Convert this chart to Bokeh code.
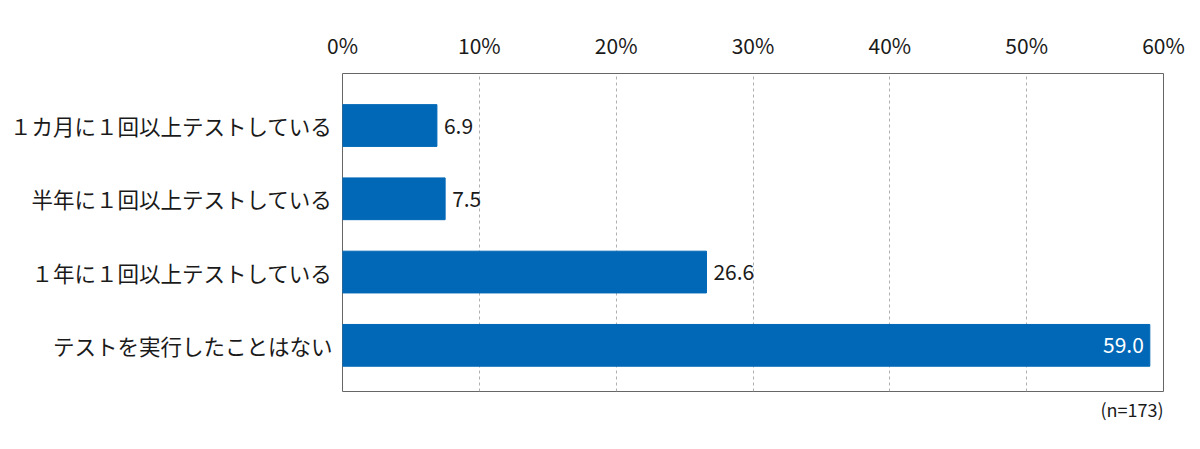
from bokeh.plotting import figure
from bokeh.models import ColumnDataSource, FixedTicker, Range1d, LinearAxis, LabelSet, Title
from bokeh.core.properties import value
from bokeh.embed import file_html
from bokeh.resources import INLINE

categories = ["１カ月に１回以上テストしている", "半年に１回以上テストしている", "１年に１回以上テストしている", "テストを実行したことはない"]
values = [6.9, 7.5, 26.6, 59.0]
x_ticks = [0, 10, 20, 30, 40, 50, 60]
x_tick_labels = ["0%", "10%", "20%", "30%", "40%", "50%", "60%"]
note = "(n=173)"

FONT = "Noto Sans CJK JP"
BAR = "#0068b7"

n = len(categories)
ypos = [n - 1 - i for i in range(n)]
src = ColumnDataSource(dict(y=ypos, v=values))

p = figure(width=1192, height=441, output_backend="svg", toolbar_location=None,
           x_range=Range1d(0, 60), y_range=Range1d(-0.63, 3.71),
           x_axis_location=None, y_axis_location="left",
           min_border_left=342, min_border_right=29, min_border_top=73, min_border_bottom=50)

p.hbar(y="y", right="v", left=0, height=0.57, source=src, color=BAR)

outside_idx = [i for i in range(n) if values[i] < 50]
inside_idx = [i for i in range(n) if values[i] >= 50]
outside = ColumnDataSource(dict(y=[ypos[i] for i in outside_idx], v=[values[i] for i in outside_idx],
                                lab=[f"{values[i]:.1f}" for i in outside_idx]))
inside = ColumnDataSource(dict(y=[ypos[i] for i in inside_idx], v=[values[i] for i in inside_idx],
                               lab=[f"{values[i]:.1f}" for i in inside_idx]))
p.add_layout(LabelSet(x="v", y="y", text="lab", source=outside, x_offset=7, text_baseline="middle",
                      text_align="left", text_font=value(FONT), text_font_size="21px", text_color="#1a1a1a"))
p.add_layout(LabelSet(x="v", y="y", text="lab", source=inside, x_offset=-6, text_baseline="middle",
                      text_align="right", text_font=value(FONT), text_font_size="21px", text_color="white"))

xa = LinearAxis(ticker=FixedTicker(ticks=x_ticks),
                major_label_overrides={t: l for t, l in zip(x_ticks, x_tick_labels)})
xa.axis_line_color = None
xa.major_tick_line_color = None
xa.minor_tick_line_color = None
xa.major_label_text_font = FONT
xa.major_label_text_font_size = "21px"
xa.major_label_text_color = "#1a1a1a"
xa.major_label_standoff = 8
p.add_layout(xa, "above")

ya = p.yaxis[0]
ya.ticker = FixedTicker(ticks=ypos)
ya.major_label_overrides = {y: c for y, c in zip(ypos, categories)}
ya.axis_line_color = None
ya.major_tick_line_color = None
ya.minor_tick_line_color = None
ya.major_label_text_font = FONT
ya.major_label_text_font_size = "21.5px"
ya.major_label_text_color = "#1a1a1a"
ya.major_label_standoff = 4

p.ygrid.grid_line_color = None
p.xgrid[0].ticker = FixedTicker(ticks=[10, 20, 30, 40, 50])
p.xgrid.grid_line_color = "#b0b0b0"
p.xgrid.grid_line_dash = "3 3"
p.xgrid.grid_line_width = 1

p.outline_line_color = "#666666"
p.outline_line_width = 1

p.add_layout(Title(text=note, align="right", text_font=FONT, text_font_size="18px",
                   text_font_style="normal", text_color="#1a1a1a", standoff=4), "below")

open("out.html", "w").write(file_html(p, INLINE))
